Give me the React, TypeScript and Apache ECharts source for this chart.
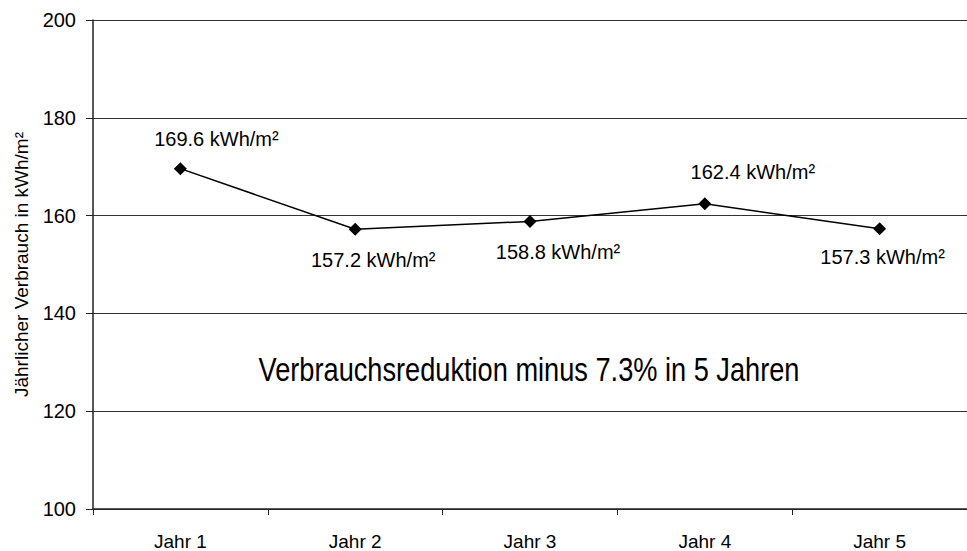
import React, { useEffect, useRef } from "react";
import * as echarts from "echarts";

const categories = ["Jahr 1", "Jahr 2", "Jahr 3", "Jahr 4", "Jahr 5"];
const consumption = [169.6, 157.2, 158.8, 162.4, 157.3];
const yTicks = { min: 100, max: 200, interval: 20 };
const axisName = "Jährlicher Verbrauch in kWh/m²";
const unit = "kWh/m²";
const annotation = "Verbrauchsreduktion minus 7.3% in 5 Jahren";

const FONT = "'Liberation Sans', Arial, sans-serif";
const labelOffsets: [number, number][] = [
  [36, -30],
  [18, 31],
  [28, 31],
  [48, -32],
  [3, 28],
];

export default function App() {
  const ref = useRef<HTMLDivElement>(null);
  useEffect(() => {
    if (!ref.current) return;
    const chart = echarts.init(ref.current, undefined, { renderer: "svg" });
    chart.setOption({
      animation: false,
      backgroundColor: "#ffffff",
      grid: { left: 93, top: 20, width: 886, height: 490, containLabel: false },
      xAxis: {
        type: "category",
        data: categories,
        boundaryGap: true,
        axisLine: { show: true, lineStyle: { color: "#222222", width: 1.5 } },
        axisTick: { show: true, length: 6, interval: 0, lineStyle: { color: "#222222", width: 1 } },
        axisLabel: { color: "#000000", fontFamily: FONT, fontSize: 19, margin: 23, interval: 0 },
        splitLine: { show: false },
      },
      yAxis: {
        type: "value",
        min: yTicks.min,
        max: yTicks.max,
        interval: yTicks.interval,
        name: axisName,
        nameLocation: "middle",
        nameRotate: 90,
        nameGap: 62,
        nameTextStyle: { color: "#000000", fontFamily: FONT, fontSize: 19 },
        axisLine: { show: true, lineStyle: { color: "#222222", width: 1.5 } },
        axisTick: { show: true, length: 7, lineStyle: { color: "#222222", width: 1 } },
        axisLabel: { color: "#000000", fontFamily: FONT, fontSize: 20, margin: 17 },
        splitLine: { show: true, lineStyle: { color: "#333333", width: 1.2 } },
      },
      series: [
        {
          type: "line",
          data: consumption.map((v, i) => ({
            value: v,
            label: { offset: labelOffsets[i] },
          })),
          symbol: "diamond",
          symbolSize: 13,
          itemStyle: { color: "#000000" },
          lineStyle: { color: "#000000", width: 1.5 },
          label: {
            show: true,
            position: "inside",
            color: "#000000",
            fontFamily: FONT,
            fontSize: 20,
            formatter: (p: any) => `${Number(p.value).toFixed(1)} ${unit}`,
          },
        },
      ],
      graphic: [
        {
          type: "text",
          x: 529,
          y: 369,
          scaleX: 0.8,
          style: {
            text: annotation,
            fontFamily: FONT,
            fontSize: 34,
            fill: "#000000",
            textAlign: "center",
            textVerticalAlign: "middle",
          },
        },
      ],
    });
    return () => chart.dispose();
  }, []);
  return (
    <div
      ref={ref}
      style={{ position: "absolute", left: 0, top: 0, width: 967, height: 551 }}
    />
  );
}
